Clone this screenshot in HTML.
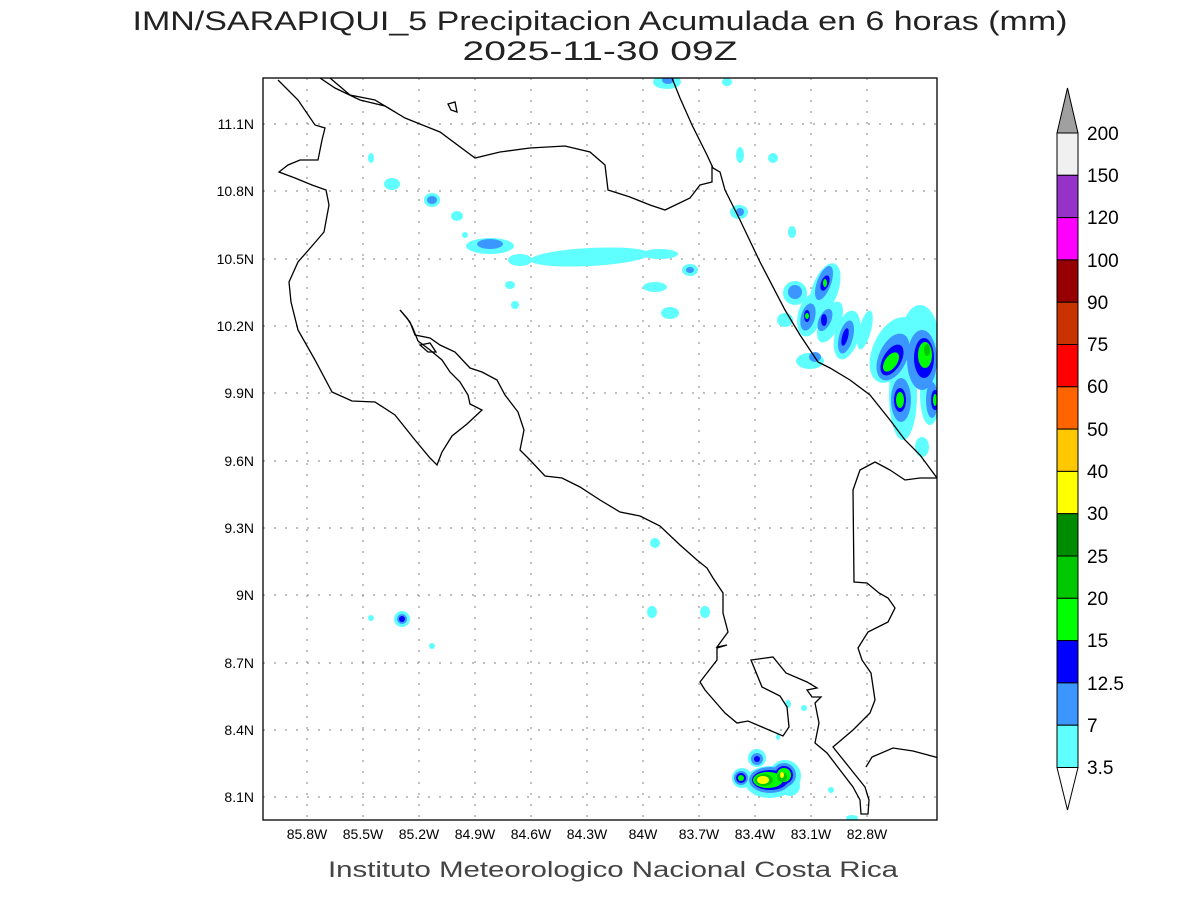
<!DOCTYPE html>
<html><head><meta charset="utf-8"><style>
html,body{margin:0;padding:0;background:#fff;}
svg{display:block;font-family:"Liberation Sans",sans-serif;}
</style></head><body>
<svg width="1200" height="900" viewBox="0 0 1200 900" xmlns="http://www.w3.org/2000/svg">
<rect width="1200" height="900" fill="#fff"/>
<text x="600" y="30" font-size="27" text-anchor="middle" fill="#222" textLength="935" lengthAdjust="spacingAndGlyphs">IMN/SARAPIQUI_5 Precipitacion Acumulada en 6 horas (mm)</text>
<text x="600" y="60" font-size="27" text-anchor="middle" fill="#222" textLength="275" lengthAdjust="spacingAndGlyphs">2025-11-30 09Z</text>
<text x="613" y="877" font-size="22" text-anchor="middle" fill="#444" textLength="570" lengthAdjust="spacingAndGlyphs">Instituto Meteorologico Nacional Costa Rica</text>
<defs><clipPath id="c"><rect x="263" y="78" width="674" height="742"/></clipPath></defs>
<g clip-path="url(#c)">
<g stroke="#999" stroke-width="1.2" stroke-dasharray="2,9">
<line x1="307" y1="78" x2="307" y2="820"/><line x1="363" y1="78" x2="363" y2="820"/><line x1="419" y1="78" x2="419" y2="820"/><line x1="475" y1="78" x2="475" y2="820"/><line x1="531" y1="78" x2="531" y2="820"/><line x1="587" y1="78" x2="587" y2="820"/><line x1="643" y1="78" x2="643" y2="820"/><line x1="699" y1="78" x2="699" y2="820"/><line x1="755" y1="78" x2="755" y2="820"/><line x1="811" y1="78" x2="811" y2="820"/><line x1="867" y1="78" x2="867" y2="820"/>
<line x1="263" y1="124" x2="937" y2="124"/><line x1="263" y1="191" x2="937" y2="191"/><line x1="263" y1="259" x2="937" y2="259"/><line x1="263" y1="326" x2="937" y2="326"/><line x1="263" y1="393" x2="937" y2="393"/><line x1="263" y1="461" x2="937" y2="461"/><line x1="263" y1="528" x2="937" y2="528"/><line x1="263" y1="595" x2="937" y2="595"/><line x1="263" y1="663" x2="937" y2="663"/><line x1="263" y1="730" x2="937" y2="730"/><line x1="263" y1="797" x2="937" y2="797"/>
</g>
<g fill="#60ffff">
<ellipse cx="667" cy="82" rx="14" ry="7"/><ellipse cx="727" cy="82" rx="5" ry="4"/>
<ellipse cx="740" cy="155" rx="4" ry="8"/><ellipse cx="773" cy="158" rx="5" ry="5"/><ellipse cx="739" cy="212" rx="9" ry="7"/>
<ellipse cx="371" cy="158" rx="3" ry="5"/><ellipse cx="392" cy="184" rx="8" ry="6"/><ellipse cx="432" cy="200" rx="8" ry="7"/><ellipse cx="457" cy="216" rx="6" ry="5"/><ellipse cx="465" cy="235" rx="3" ry="3"/>
<ellipse cx="490" cy="246" rx="24" ry="8"/><ellipse cx="590" cy="257" rx="60" ry="9" transform="rotate(-3 590 257)"/><ellipse cx="520" cy="260" rx="12" ry="6"/><ellipse cx="660" cy="254" rx="18" ry="5"/>
<ellipse cx="690" cy="270" rx="8" ry="6"/><ellipse cx="655" cy="287" rx="12" ry="5"/><ellipse cx="510" cy="285" rx="5" ry="4"/><ellipse cx="515" cy="305" rx="4" ry="4"/><ellipse cx="670" cy="313" rx="9" ry="6"/>
<ellipse cx="792" cy="232" rx="4" ry="6"/><ellipse cx="785" cy="320" rx="8" ry="7"/><ellipse cx="795" cy="293" rx="12" ry="12"/><ellipse cx="825" cy="290" rx="13" ry="28" transform="rotate(20 825 290)"/><ellipse cx="810" cy="315" rx="12" ry="22" transform="rotate(15 810 315)"/><ellipse cx="830" cy="322" rx="10" ry="22" transform="rotate(25 830 322)"/><ellipse cx="847" cy="335" rx="12" ry="25" transform="rotate(15 847 335)"/><ellipse cx="865" cy="330" rx="6" ry="20" transform="rotate(15 865 330)"/><ellipse cx="810" cy="361" rx="14" ry="8"/>
<ellipse cx="893" cy="350" rx="20" ry="35" transform="rotate(25 893 350)"/><ellipse cx="920" cy="345" rx="20" ry="40"/><ellipse cx="903" cy="395" rx="14" ry="45"/><ellipse cx="930" cy="395" rx="10" ry="30"/><ellipse cx="922" cy="447" rx="7" ry="10"/>
<ellipse cx="655" cy="543" rx="5" ry="5"/><ellipse cx="652" cy="612" rx="5" ry="6"/><ellipse cx="705" cy="612" rx="5" ry="6"/><ellipse cx="402" cy="619" rx="8" ry="8"/><ellipse cx="371" cy="618" rx="3" ry="3"/><ellipse cx="432" cy="646" rx="3" ry="3"/>
<ellipse cx="788" cy="704" rx="3" ry="4"/><ellipse cx="804" cy="708" rx="3" ry="3"/><ellipse cx="778" cy="737" rx="2" ry="3"/>
<ellipse cx="757" cy="758" rx="9" ry="9"/><ellipse cx="742" cy="778" rx="10" ry="10"/><ellipse cx="770" cy="782" rx="25" ry="16"/><ellipse cx="785" cy="776" rx="16" ry="16"/><ellipse cx="790" cy="786" rx="10" ry="10"/>
<ellipse cx="831" cy="790" rx="3" ry="3"/><ellipse cx="852" cy="818" rx="6" ry="3"/>
</g>
<g fill="#3c96ff">
<ellipse cx="668" cy="80" rx="6" ry="4"/><ellipse cx="432" cy="200" rx="5" ry="4"/><ellipse cx="402" cy="619" rx="5" ry="5"/><ellipse cx="490" cy="244" rx="13" ry="5"/><ellipse cx="690" cy="270" rx="4" ry="3"/><ellipse cx="740" cy="212" rx="4" ry="4"/>
<ellipse cx="795" cy="292" rx="7" ry="7"/><ellipse cx="824" cy="283" rx="7" ry="18" transform="rotate(20 824 283)"/><ellipse cx="808" cy="317" rx="7" ry="14" transform="rotate(15 808 317)"/><ellipse cx="825" cy="320" rx="6" ry="12" transform="rotate(25 825 320)"/><ellipse cx="846" cy="337" rx="7" ry="17" transform="rotate(15 846 337)"/><ellipse cx="815" cy="357" rx="6" ry="5"/>
<ellipse cx="893" cy="357" rx="14" ry="25" transform="rotate(25 893 357)"/><ellipse cx="922" cy="360" rx="15" ry="30"/><ellipse cx="901" cy="400" rx="10" ry="22"/><ellipse cx="932" cy="400" rx="6" ry="18"/>
<ellipse cx="757" cy="759" rx="6" ry="6"/><ellipse cx="741" cy="778" rx="7" ry="7"/><ellipse cx="770" cy="780" rx="21" ry="13"/><ellipse cx="784" cy="775" rx="12" ry="12"/>
</g>
<g fill="#0000ff">
<ellipse cx="825" cy="283" rx="4" ry="8" transform="rotate(20 825 283)"/><ellipse cx="807" cy="316" rx="3" ry="6"/><ellipse cx="824" cy="320" rx="3" ry="6"/><ellipse cx="845" cy="337" rx="3" ry="9" transform="rotate(15 845 337)"/>
<ellipse cx="892" cy="360" rx="9" ry="17" transform="rotate(30 892 360)"/><ellipse cx="924" cy="358" rx="10" ry="20"/><ellipse cx="900" cy="400" rx="6" ry="12"/><ellipse cx="935" cy="400" rx="4" ry="10"/>
<ellipse cx="757" cy="759" rx="3" ry="3"/><ellipse cx="741" cy="778" rx="5" ry="5"/><ellipse cx="770" cy="780" rx="18" ry="10"/><ellipse cx="784" cy="775" rx="9" ry="9"/><ellipse cx="402" cy="619" rx="3" ry="3"/>
</g>
<g fill="#00ff00">
<ellipse cx="825" cy="283" rx="2" ry="4"/><ellipse cx="807" cy="316" rx="2" ry="3"/>
<ellipse cx="891" cy="362" rx="6" ry="11" transform="rotate(35 891 362)"/><ellipse cx="925" cy="355" rx="7" ry="13"/><ellipse cx="900" cy="400" rx="4" ry="8"/><ellipse cx="935" cy="400" rx="2" ry="6"/>
<ellipse cx="741" cy="778" rx="3" ry="3"/><ellipse cx="768" cy="780" rx="15" ry="8"/><ellipse cx="784" cy="775" rx="7" ry="7"/>
</g>
<g fill="#00c800"><ellipse cx="764" cy="780" rx="9" ry="6"/><ellipse cx="782" cy="777" rx="5" ry="5"/><ellipse cx="927" cy="350" rx="3" ry="6"/></g>
<g fill="#ffff00"><ellipse cx="763" cy="780" rx="6" ry="4"/><ellipse cx="782" cy="775" rx="2" ry="3"/></g>
<g fill="none" stroke="#000" stroke-width="1.3">
<polyline points="278,80 298,100 315,125 325,128 322,140 318,160 300,160 288,165 279,172 295,178 312,185 326,190 329,205 324,232 312,246 298,262 289,282 291,302 298,330 315,360 332,392 352,401 375,402 395,415 415,440 430,458 437,465 442,452 452,436 467,424 482,410 470,404 468,395 460,382 450,372 442,360 430,350 418,341 412,326 407,318 400,310"/>
<polyline points="400,310 410,322 415,335 430,338 440,345 455,352 470,368 482,372 497,380 505,395 518,412 524,430 520,450 530,460 545,476 562,478 580,487 600,500 620,512 640,516 660,526 680,545 697,560 707,568 713,578 723,593 723,613 728,632 717,647 727,645 717,648 717,660 700,682 705,690 725,713 737,723 748,721 762,727 783,736 789,727 787,707 780,696 762,687 751,660 773,657 786,673 807,682 817,688 807,690 812,697 821,697 815,703 819,723 815,743 827,753 853,787 860,800 861,814 868,814 869,800 865,787 833,747 853,730 870,713 875,700 871,673 862,660 858,648 868,632 888,622 895,608 888,598 879,593 867,583 854,582 853,490 860,470 875,462 890,470 905,480 920,478 937,478"/>
<polyline points="866,767 872,757 893,748 913,751 939,758"/>
<polyline points="672,78 680,98 692,125 707,155 713,168 720,172 725,190 740,220 760,262 785,310 800,335 818,362 830,368 850,380 870,395 890,420 905,440 920,455 937,478"/>
<polyline points="320,78 335,88 360,100 385,106 405,118 440,132 475,158 500,152 530,148 565,146 590,152 605,165 608,190 630,197 650,205 665,210 690,198 700,185 712,182 712,165"/>
<polyline points="330,78 350,95 375,100 395,112"/>
<polygon points="448,104 455,102 457,112 451,110"/>
<polygon points="420,345 430,343 436,352 428,352"/>
</g>
</g>
<rect x="263" y="78" width="674" height="742" fill="none" stroke="#000" stroke-width="1.3"/>
<g font-size="14" fill="#000" text-anchor="middle">
<text x="307" y="839">85.8W</text><text x="363" y="839">85.5W</text><text x="419" y="839">85.2W</text><text x="475" y="839">84.9W</text><text x="531" y="839">84.6W</text><text x="587" y="839">84.3W</text><text x="643" y="839">84W</text><text x="699" y="839">83.7W</text><text x="755" y="839">83.4W</text><text x="811" y="839">83.1W</text><text x="867" y="839">82.8W</text>
</g>
<g font-size="14" fill="#000" text-anchor="end">
<text x="254" y="129">11.1N</text><text x="254" y="196">10.8N</text><text x="254" y="264">10.5N</text><text x="254" y="331">10.2N</text><text x="254" y="398">9.9N</text><text x="254" y="466">9.6N</text><text x="254" y="533">9.3N</text><text x="254" y="600">9N</text><text x="254" y="668">8.7N</text><text x="254" y="735">8.4N</text><text x="254" y="802">8.1N</text>
</g>
<g stroke="#000" stroke-width="1">
<polygon points="1057,133 1078,133 1067.5,88" fill="#a0a0a0"/>
<rect x="1057" y="133" width="21" height="42.3" fill="#f0f0f0"/>
<rect x="1057" y="175.3" width="21" height="42.3" fill="#9632c8"/>
<rect x="1057" y="217.6" width="21" height="42.3" fill="#ff00ff"/>
<rect x="1057" y="259.9" width="21" height="42.3" fill="#960000"/>
<rect x="1057" y="302.2" width="21" height="42.3" fill="#c83200"/>
<rect x="1057" y="344.5" width="21" height="42.3" fill="#ff0000"/>
<rect x="1057" y="386.8" width="21" height="42.3" fill="#ff6400"/>
<rect x="1057" y="429.1" width="21" height="42.3" fill="#ffc800"/>
<rect x="1057" y="471.4" width="21" height="42.3" fill="#ffff00"/>
<rect x="1057" y="513.7" width="21" height="42.3" fill="#008c00"/>
<rect x="1057" y="556" width="21" height="42.3" fill="#00c800"/>
<rect x="1057" y="598.3" width="21" height="42.3" fill="#00ff00"/>
<rect x="1057" y="640.6" width="21" height="42.3" fill="#0000ff"/>
<rect x="1057" y="682.9" width="21" height="42.3" fill="#3c96ff"/>
<rect x="1057" y="725.2" width="21" height="42.3" fill="#60ffff"/>
<polygon points="1057,767.5 1078,767.5 1067.5,810" fill="#fff"/>
</g>
<g font-size="19" fill="#000">
<text x="1087" y="140">200</text><text x="1087" y="182">150</text><text x="1087" y="224">120</text><text x="1087" y="267">100</text><text x="1087" y="309">90</text><text x="1087" y="351">75</text><text x="1087" y="393">60</text><text x="1087" y="436">50</text><text x="1087" y="478">40</text><text x="1087" y="520">30</text><text x="1087" y="563">25</text><text x="1087" y="605">20</text><text x="1087" y="647">15</text><text x="1087" y="690">12.5</text><text x="1087" y="732">7</text><text x="1087" y="774">3.5</text>
</g>
</svg>
</body></html>
